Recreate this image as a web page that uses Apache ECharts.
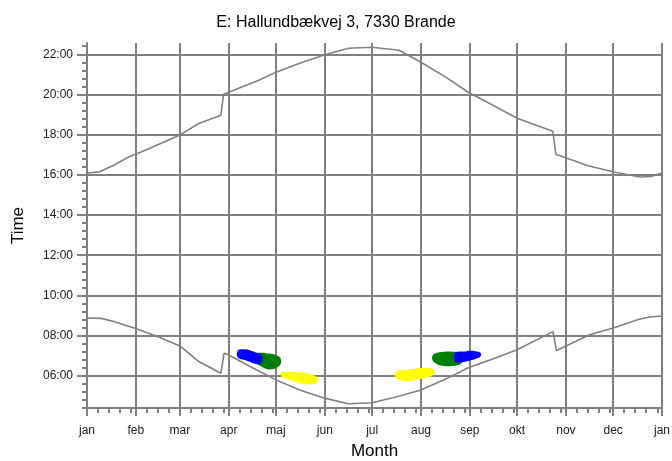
<!DOCTYPE html>
<html>
<head>
<meta charset="utf-8">
<script src="https://cdn.jsdelivr.net/npm/echarts@6/dist/echarts.min.js"></script>
<style>
  html, body { margin: 0; padding: 0; background: #fff; }
  #chart { width: 672px; height: 461px; }
</style>
</head>
<body>
<div id="chart"></div>
<script>
// Month axis: day-of-year at each month start
const monthNames  = ['jan','feb','mar','apr','maj','jun','jul','aug','sep','okt','nov','dec','jan'];
const monthStarts = [0, 31, 59, 90, 120, 151, 181, 212, 243, 273, 304, 334, 365];
// Time axis: labelled hours
const hourTicks = [6, 8, 10, 12, 14, 16, 18, 20, 22];

// Sunset (upper curve): [day of year, hour]
const sunset = [
  [0, 16.09], [8, 16.15], [17, 16.48], [26.7, 16.90], [31, 17.03], [45, 17.50],
  [59, 17.98], [71, 18.56], [85, 18.97], [86.7, 20.01], [90, 20.11], [109, 20.71],
  [120, 21.11], [135, 21.55], [150, 21.95], [166, 22.30], [181, 22.35], [198, 22.20],
  [212, 21.60], [228, 20.85], [242, 20.11], [258, 19.45], [273, 18.82], [295.7, 18.17],
  [297.6, 17.03], [303, 16.88], [318, 16.45], [334.5, 16.14], [351, 15.89], [358, 15.92],
  [365, 16.09]
];

// Sunrise (lower curve): [day of year, hour]
const sunrise = [
  [0, 8.88], [9, 8.86], [17, 8.70], [26.7, 8.45], [31, 8.36], [45, 7.95],
  [59, 7.49], [71, 6.71], [85, 6.13], [87, 7.13], [90, 7.04], [105, 6.40],
  [120, 5.80], [135, 5.30], [150.7, 4.89], [166, 4.61], [181, 4.66], [196, 4.95],
  [212, 5.30], [228, 5.85], [242, 6.40], [258, 6.85], [273, 7.30], [295.8, 8.20],
  [298, 7.26], [319, 8.04], [334.5, 8.39], [350, 8.80], [357, 8.93], [365, 8.98]
];

// Shadow periods: [day of year, start hour, end hour]
const springBlue = [
  [96, 7.08, 7.10], [96.7, 6.94, 7.24], [99.2, 6.89, 7.25], [101.7, 6.82, 7.24],
  [104.3, 6.75, 7.17], [106.8, 6.67, 7.09], [109.4, 6.65, 7.04], [110.5, 6.80, 6.95]
];
const springGreen = [
  [106, 6.85, 6.95], [106.8, 6.70, 7.04], [109.4, 6.60, 7.07], [111.9, 6.50, 7.07],
  [114.5, 6.40, 7.04], [117.0, 6.40, 7.02], [119.5, 6.45, 6.97], [121.5, 6.55, 6.89],
  [122.3, 6.68, 6.78]
];
const springYellow = [
  [124.0, 6.05, 6.08], [124.6, 6.00, 6.12], [127.2, 5.93, 6.13], [129.7, 5.85, 6.12],
  [132.3, 5.78, 6.10], [134.8, 5.73, 6.10], [137.4, 5.68, 6.07], [139.9, 5.65, 6.05],
  [142.4, 5.65, 6.00], [145.0, 5.70, 5.90], [146.0, 5.78, 5.82]
];
const autumnYellow = [
  [196.3, 6.03, 6.07], [197.1, 5.93, 6.17], [199.7, 5.85, 6.20], [202.2, 5.80, 6.22],
  [204.8, 5.80, 6.25], [207.3, 5.85, 6.27], [209.8, 5.90, 6.30], [212.4, 5.93, 6.32],
  [214.9, 5.98, 6.32], [217.5, 6.02, 6.32], [219.4, 6.10, 6.27], [220.0, 6.17, 6.21]
];
const autumnGreen = [
  [220.0, 6.86, 6.92], [220.7, 6.75, 7.02], [223.2, 6.62, 7.09], [225.7, 6.57, 7.12],
  [228.3, 6.55, 7.14], [230.8, 6.55, 7.14], [233.4, 6.57, 7.12], [235.9, 6.62, 7.09],
  [237.8, 6.72, 7.04], [238.5, 6.85, 6.93]
];
const autumnBlue = [
  [234.0, 6.90, 6.95], [234.6, 6.72, 7.12], [237.2, 6.75, 7.14], [239.7, 6.77, 7.14],
  [242.3, 6.82, 7.17], [244.8, 6.87, 7.17], [247.4, 6.94, 7.14], [248.6, 6.99, 7.12],
  [249.2, 7.04, 7.08]
];

// Weekly minor ticks inside each month, 24-minute minor ticks on the time axis
const weekTicks = [];
for (let m = 0; m < monthStarts.length - 1; m++) {
  for (let d = monthStarts[m] + 7; d < monthStarts[m + 1]; d += 7) weekTicks.push(d);
}
const yMin = 4.4, yMax = 22.56;
const minorHourTicks = [];
for (let k = 0; (44 + 4 * k) / 10 <= yMax; k++) {
  const v = (44 + 4 * k) / 10;
  if (hourTicks.indexOf(v) < 0) minorHourTicks.push(v);
}

const GRAY = '#808080';
const FONT = 'Liberation Sans, Arial, sans-serif';

function blobSeries(rows, color) {
  return {
    type: 'custom',
    coordinateSystem: 'cartesian2d',
    xAxisIndex: 0, yAxisIndex: 0,
    data: rows,
    encode: { x: 0, y: [1, 2] },
    silent: true,
    renderItem: function (params, api) {
      if (params.dataIndex !== 0) return null;
      const top = rows.map(r => api.coord([r[0], r[2]]));
      const bottom = rows.map(r => api.coord([r[0], r[1]])).reverse();
      return {
        type: 'polygon',
        shape: { points: top.concat(bottom), smooth: 0.25 },
        style: { fill: color, stroke: color, lineWidth: 3, lineJoin: 'round' }
      };
    }
  };
}

function curveSeries(data) {
  return {
    type: 'line',
    xAxisIndex: 0, yAxisIndex: 0,
    data: data,
    showSymbol: false,
    silent: true,
    lineStyle: { color: GRAY, width: 1.6 }
  };
}

const chart = echarts.init(document.getElementById('chart'), null, { renderer: 'canvas' });
chart.setOption({
  animation: false,
  backgroundColor: '#fff',
  title: {
    text: 'E: Hallundbækvej 3, 7330 Brande',
    left: 'center',
    top: 10,
    textStyle: { fontFamily: FONT, fontSize: 16, fontWeight: 'normal', color: '#000' }
  },
  grid: { left: 87, right: 10, top: 43, bottom: 53, containLabel: false, outerBoundsMode: 'none' },
  xAxis: [
    {
      type: 'value', min: 0, max: 365,
      name: 'Month', nameLocation: 'middle', nameGap: 35,
      nameTextStyle: { fontFamily: FONT, fontSize: 17, color: '#000' },
      axisLine: { lineStyle: { color: GRAY, width: 2 } },
      axisTick: { customValues: monthStarts, length: 8, lineStyle: { color: GRAY, width: 2 } },
      axisLabel: {
        customValues: monthStarts,
        formatter: v => monthNames[monthStarts.indexOf(v)],
        fontFamily: FONT, fontSize: 12, color: '#1a1a1a', margin: 17
      },
      splitLine: { show: true, lineStyle: { color: GRAY, width: 2 } }
    },
    {
      type: 'value', min: 0, max: 365, position: 'bottom',
      axisLine: { show: false },
      axisTick: { customValues: weekTicks, length: 5, lineStyle: { color: GRAY, width: 2 } },
      axisLabel: { show: false },
      splitLine: { show: false }
    }
  ],
  yAxis: [
    {
      type: 'value', min: yMin, max: yMax,
      name: 'Time', nameLocation: 'middle', nameGap: 60,
      nameTextStyle: { fontFamily: FONT, fontSize: 17, color: '#000' },
      axisLine: { show: true, lineStyle: { color: GRAY, width: 2 } },
      axisTick: { show: true, customValues: hourTicks, length: 10, lineStyle: { color: GRAY, width: 2 } },
      axisLabel: {
        customValues: hourTicks,
        formatter: v => (v < 10 ? '0' : '') + v + ':00',
        fontFamily: FONT, fontSize: 12, color: '#1a1a1a', margin: 14
      },
      splitLine: { show: true, lineStyle: { color: GRAY, width: 2 } }
    },
    {
      type: 'value', min: yMin, max: yMax, position: 'left',
      axisLine: { show: false },
      axisTick: { show: true, customValues: minorHourTicks, length: 5, lineStyle: { color: GRAY, width: 2 } },
      axisLabel: { show: false },
      splitLine: { show: false }
    }
  ],
  series: [
    curveSeries(sunset),
    curveSeries(sunrise),
    blobSeries(springYellow, '#ffff00'),
    blobSeries(springGreen, '#008000'),
    blobSeries(springBlue, '#0000ff'),
    blobSeries(autumnYellow, '#ffff00'),
    blobSeries(autumnGreen, '#008000'),
    blobSeries(autumnBlue, '#0000ff')
  ]
});
</script>
</body>
</html>
